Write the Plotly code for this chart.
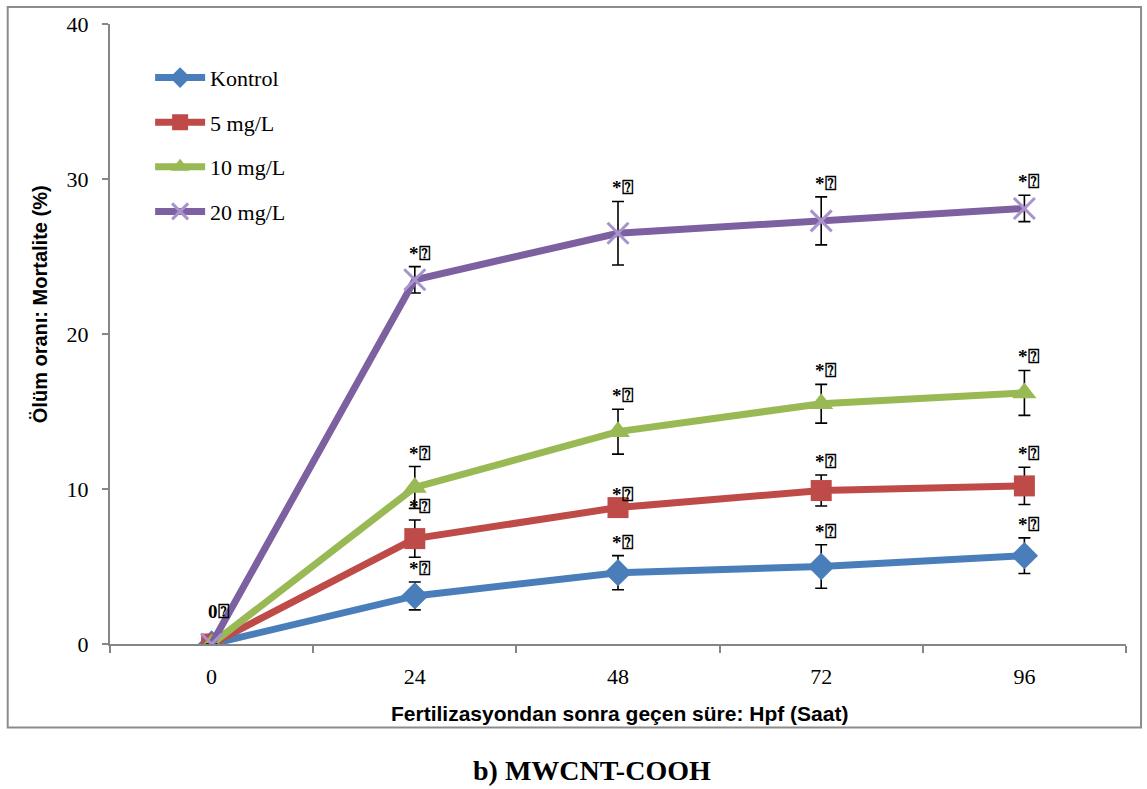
import plotly.graph_objects as go

hours = [0, 24, 48, 72, 96]
tick_labels = ["0", "24", "48", "72", "96"]

series_names = ["Kontrol", "5 mg/L", "10 mg/L", "20 mg/L"]
kontrol = [0, 3.1, 4.6, 5.0, 5.7]
mg5 = [0, 6.8, 8.8, 9.9, 10.2]
mg10 = [0, 10.1, 13.7, 15.5, 16.2]
mg20 = [0, 23.5, 26.5, 27.3, 28.1]

kontrol_err = [0, 0.9, 1.1, 1.4, 1.15]
mg5_err = [0, 1.2, 0, 1.0, 1.2]
mg10_err = [0, 1.35, 1.45, 1.25, 1.45]
mg20_err = [0, 0.85, 2.05, 1.55, 0.85]

sig_label = "*\u2370"
origin_label = "0\u2370"

values = [kontrol, mg5, mg10, mg20]
errors = [kontrol_err, mg5_err, mg10_err, mg20_err]
line_colors = ["#4a7ebb", "#be4b48", "#98b954", "#7d60a0"]
markers = [
    dict(symbol="diamond", size=21, color="#4a7ebb"),
    dict(symbol="square", size=21, color="#be4b48"),
    dict(symbol="triangle-up", size=21, color="#98b954"),
    dict(symbol="x-thin", size=21, color="#a993cc",
         line=dict(width=3, color="#a993cc")),
]

fig = go.Figure()
for i, name in enumerate(series_names):
    fig.add_trace(go.Scatter(
        x=hours, y=values[i], name=name, mode="lines+markers",
        line=dict(color=line_colors[i], width=7),
        marker=markers[i],
        legendgroup=name,
        error_y=dict(type="data", array=errors[i], visible=True,
                     color="black", thickness=1.6, width=6),
    ))

annotations = []
for i in range(len(series_names)):
    for x, v, e in zip(hours[1:], values[i][1:], errors[i][1:]):
        annotations.append(dict(
            x=x, y=v + e, xref="x", yref="y", text="<b>" + sig_label + "</b>",
            showarrow=False, xanchor="left", yanchor="bottom",
            xshift=-8, yshift=1,
            font=dict(family="Liberation Serif, DejaVu Sans", size=19, color="black"),
        ))
annotations.append(dict(
    x=hours[0], y=0, xref="x", yref="y", text="<b>" + origin_label + "</b>",
    showarrow=False, xanchor="left", yanchor="bottom", xshift=-6, yshift=20,
    font=dict(family="Liberation Serif, DejaVu Sans", size=19, color="black"),
))
# axis titles
annotations.append(dict(
    x=(618 - 110) / 1013, y=0, xref="paper", yref="paper", yshift=-69,
    text="<b>Fertilizasyondan sonra geçen süre: Hpf (Saat)</b>",
    showarrow=False, xanchor="center", yanchor="middle",
    font=dict(family="Liberation Sans, Arial", size=21, color="black"),
))
annotations.append(dict(
    x=0, y=(644 - 302) / 624, xref="paper", yref="paper", xshift=-70,
    text="<b>Ölüm oranı: Mortalite (%)</b>", textangle=-90,
    showarrow=False, xanchor="center", yanchor="middle",
    font=dict(family="Liberation Sans, Arial", size=20, color="black"),
))
# caption below the chart frame
annotations.append(dict(
    x=(591 - 110) / 1013, y=0, xref="paper", yref="paper", yshift=-126,
    text="<b>b) MWCNT-COOH</b>",
    showarrow=False, xanchor="center", yanchor="middle",
    font=dict(family="Liberation Serif, Times New Roman", size=28, color="black"),
))

fig.update_layout(
    width=1147, height=789,
    margin=dict(l=110, r=21, t=20, b=145),
    paper_bgcolor="white", plot_bgcolor="white",
    showlegend=True,
    legend=dict(
        x=(150 - 110) / 1013, y=(644 - 53) / 624, xanchor="left", yanchor="top",
        font=dict(family="Liberation Serif, Times New Roman", size=22, color="black"),
        tracegroupgap=13, traceorder="grouped", bgcolor="rgba(0,0,0,0)",
        itemwidth=50,
    ),
    annotations=annotations,
    shapes=[dict(
        type="rect", xref="paper", yref="paper",
        x0=(8 - 110) / 1013, x1=(1138 - 110) / 1013,
        y0=(644 - 728) / 624, y1=(644 - 3) / 624,
        line=dict(color="#8c8c8c", width=2), fillcolor="rgba(0,0,0,0)",
        layer="below",
    )],
)

fig.update_xaxes(
    range=[-12, 108], tickvals=hours, ticktext=tick_labels,
    showgrid=False, zeroline=False, showline=True,
    linecolor="#868686", linewidth=2, ticks="",
    ticklabelstandoff=12,
    tickfont=dict(family="Liberation Serif, Times New Roman", size=22, color="black"),
    minor=dict(tickvals=[-12, 12, 36, 60, 84, 108], ticks="outside",
               ticklen=7, tickcolor="#868686", tickwidth=2, showgrid=False),
)
fig.update_yaxes(
    range=[0, 40], tickvals=[0, 10, 20, 30, 40],
    showgrid=False, zeroline=False, showline=True,
    linecolor="#868686", linewidth=2, ticks="outside", ticklen=6,
    tickcolor="#868686", tickwidth=2, ticklabelstandoff=9,
    tickfont=dict(family="Liberation Serif, Times New Roman", size=22, color="black"),
)

fig.write_html("out.html")
